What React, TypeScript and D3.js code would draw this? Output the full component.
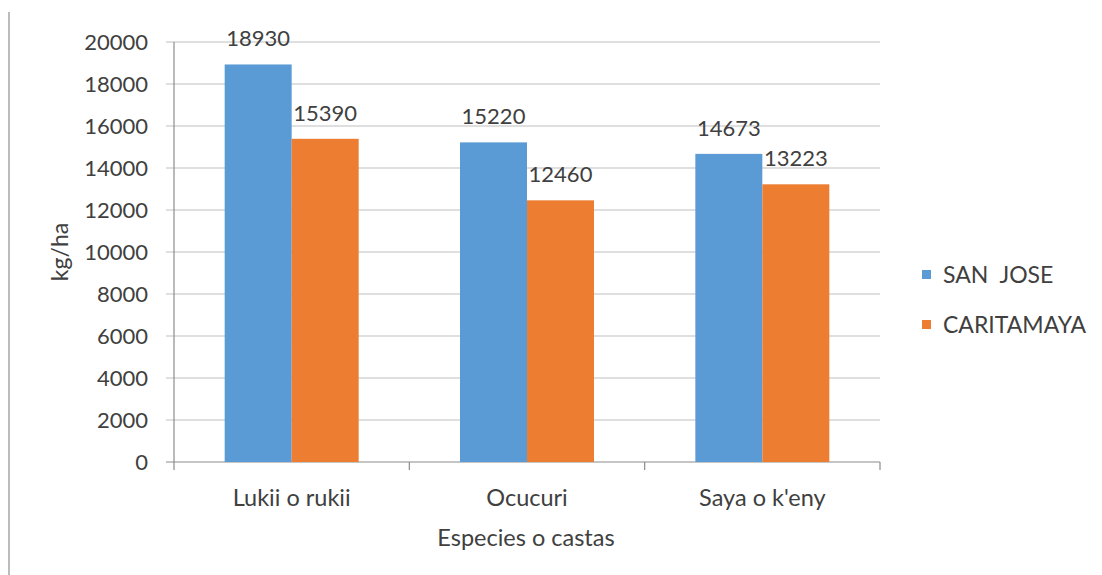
import React from "react";
import * as d3 from "d3";

const categories = ["Lukii o rukii", "Ocucuri", "Saya o k'eny"];
const seriesNames = ["SAN  JOSE", "CARITAMAYA"];
const sanJose = [18930, 15220, 14673];
const caritamaya = [15390, 12460, 13223];
const yTicks = [0, 2000, 4000, 6000, 8000, 10000, 12000, 14000, 16000, 18000, 20000];
const colors = ["#5B9BD5", "#ED7D31"];

const W = 1102, H = 575;
const left = 174, right = 880, top = 42, bottom = 462;
const FONT = "Lato, 'Open Sans', sans-serif";

export default function App() {
  const x = d3.scaleBand<string>().domain(categories).range([left, right]).paddingInner(0).paddingOuter(0);
  const y = d3.scaleLinear().domain([0, 20000]).range([bottom, top]);
  const barW = 67;
  const series = [sanJose, caritamaya];
  return (
    <svg width={W} height={H} style={{ position: "absolute", left: 0, top: 0, background: "#fff" }} fontFamily={FONT}>
      <rect x={0} y={0} width={W} height={H} fill="#fff" />
      <line x1={9} x2={9} y1={12} y2={H} stroke="#a6a6a6" strokeWidth={1.5} />
      {yTicks.map((t) => (
        <g key={t}>
          <line x1={left - 8} x2={right} y1={y(t)} y2={y(t)} stroke={t === 0 ? "#8c8c8c" : "#bfbfbf"} strokeWidth={1.2} />
          <text x={148} y={y(t)} dy="0.36em" textAnchor="end" fontSize={22} fill="#404040">{t}</text>
        </g>
      ))}
      <line x1={left} x2={left} y1={top} y2={bottom + 8} stroke="#8c8c8c" strokeWidth={1.2} />
      {categories.map((c) => (
        <line key={c} x1={x(c)! + x.bandwidth()} x2={x(c)! + x.bandwidth()} y1={bottom} y2={bottom + 8} stroke="#8c8c8c" strokeWidth={1.2} />
      ))}
      {categories.map((c, i) => {
        const cx = x(c)! + x.bandwidth() / 2;
        return (
          <g key={c}>
            {series.map((s, j) => {
              const bx = cx - barW + j * barW;
              return (
                <g key={j}>
                  <rect x={bx} y={y(s[i])} width={barW} height={bottom - y(s[i])} fill={colors[j]} />
                  <text x={bx + barW / 2} y={y(s[i]) - 18} textAnchor="middle" fontSize={22} fill="#404040">{s[i]}</text>
                </g>
              );
            })}
            <text x={cx} y={498} dy="0.36em" textAnchor="middle" fontSize={23.5} fill="#404040">{c}</text>
          </g>
        );
      })}
      <text x={(left + right) / 2 - 1} y={538} dy="0.36em" textAnchor="middle" fontSize={23.5} fill="#404040">Especies o castas</text>
      <text transform={`translate(60,${(top + bottom) / 2})  rotate(-90)`} textAnchor="middle" dy="0.36em" fontSize={23} fill="#404040">kg/ha</text>
      {seriesNames.map((n, j) => (
        <g key={n} transform={`translate(922,${275 + j * 50})`}>
          <rect x={0} y={-5} width={9} height={9} fill={colors[j]} />
          <text x={21} y={0} dy="0.36em" fontSize={23} fill="#404040" style={{ whiteSpace: "pre" }}>{n}</text>
        </g>
      ))}
    </svg>
  );
}
